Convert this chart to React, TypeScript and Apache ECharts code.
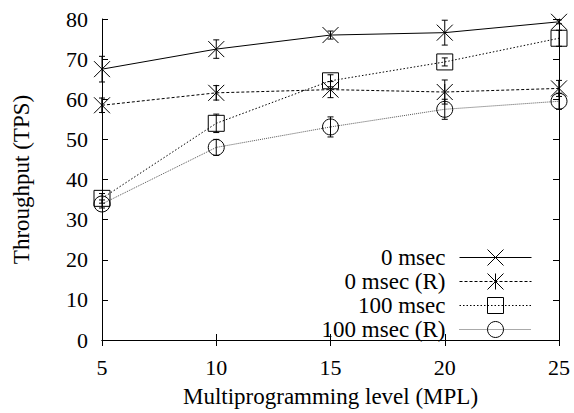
import React, { useEffect, useRef } from "react";
import * as echarts from "echarts";

const mpl = [5, 10, 15, 20, 25];
const tps0 = [67.5, 72.5, 76.0, 76.6, 79.3];
const err0 = [3.2, 2.3, 1.0, 3.1, 0.5];
const tps0R = [58.5, 61.6, 62.4, 61.8, 62.7];
const err0R = [1.8, 1.8, 2.0, 3.0, 2.0];
const tps100 = [35.3, 54.0, 64.6, 69.3, 75.2];
const err100 = [1.2, 2.3, 1.5, 1.0, 2.0];
const tps100R = [33.9, 48.0, 53.1, 57.5, 59.5];
const err100R = [1.0, 2.0, 2.5, 2.5, 2.0];
const seriesNames = ["0 msec", "0 msec (R)", "100 msec", "100 msec (R)"];
const xTicks = { min: 5, max: 25, interval: 5 };
const yTicks = { min: 0, max: 80, interval: 10 };

const FONT = "'Liberation Serif', 'Times New Roman', serif";
const FS = 22;
const FS_T = 23;

const SYM_CROSS = "path://M0,0L10,10M10,0L0,10";
const SYM_STAR = "path://M0,0L10,10M10,0L0,10M5,0L5,10";
const SYM_SQUARE = "path://M0,0L10,0L10,10L0,10Z";

export default function App() {
  const ref = useRef<HTMLDivElement>(null);
  useEffect(() => {
    if (!ref.current) return;
    const chart = echarts.init(ref.current, null, { renderer: "svg" });

    const lineSeries = (
      name: string,
      ys: number[],
      symbol: string,
      lineType: any,
      lineColor: string
    ) => ({
      name,
      type: "line",
      data: mpl.map((x, i) => [x, ys[i]]),
      symbol,
      symbolSize: 16,
      showSymbol: true,
      symbolKeepAspect: true,
      lineStyle: { color: lineColor, width: 1, type: lineType },
      itemStyle: { color: "rgba(0,0,0,0)", borderColor: "#000", borderWidth: 1 },
      emphasis: { disabled: true },
      z: 3,
    });

    const errSeries = (ys: number[], es: number[]) => ({
      type: "custom",
      data: mpl.map((x, i) => [x, ys[i] - es[i], ys[i] + es[i]]),
      encode: { x: 0, y: [1, 2] },
      renderItem: (params: any, api: any) => {
        const x = api.value(0);
        const lo = api.coord([x, api.value(1)]);
        const hi = api.coord([x, api.value(2)]);
        const w = 3;
        const st = { stroke: "#000", lineWidth: 1 };
        return {
          type: "group",
          children: [
            { type: "line", shape: { x1: lo[0], y1: lo[1], x2: hi[0], y2: hi[1] }, style: st },
            { type: "line", shape: { x1: lo[0] - w, y1: lo[1], x2: lo[0] + w, y2: lo[1] }, style: st },
            { type: "line", shape: { x1: hi[0] - w, y1: hi[1], x2: hi[0] + w, y2: hi[1] }, style: st },
          ],
        };
      },
      silent: true,
      z: 4,
    });

    const axisCommon = {
      axisLine: { show: true, lineStyle: { color: "#000", width: 1 } },
      axisTick: { show: true, inside: true, length: 6, lineStyle: { color: "#000" } },
      splitLine: { show: false },
    };

    chart.setOption({
      animation: false,
      backgroundColor: "#fff",
      textStyle: { fontFamily: FONT },
      grid: { left: 102, right: 15, top: 19, bottom: 71 },
      legend: {
        data: seriesNames,
        orient: "vertical",
        align: "right",
        right: 37,
        top: 241,
        itemWidth: 72,
        itemHeight: 20,
        itemGap: 1,
        lineStyle: { width: 1 },
        itemStyle: { borderWidth: 1 },
        textStyle: {
          fontFamily: FONT,
          fontSize: FS_T,
          lineHeight: 20,
          color: "#000",
          padding: [0, 9, 0, 0],
        },
        selectedMode: false,
      },
      xAxis: [
        {
          type: "value",
          ...xTicks,
          position: "bottom",
          ...axisCommon,
          axisLabel: { color: "#000", fontSize: FS, fontFamily: FONT, margin: 16 },
          name: "Multiprogramming level (MPL)",
          nameLocation: "middle",
          nameGap: 45,
          nameTextStyle: { color: "#000", fontSize: FS_T, fontFamily: FONT },
        },
        {
          type: "value",
          ...xTicks,
          position: "top",
          ...axisCommon,
          axisLabel: { show: false },
        },
      ],
      yAxis: [
        {
          type: "value",
          ...yTicks,
          position: "left",
          ...axisCommon,
          axisLabel: { color: "#000", fontSize: FS, fontFamily: FONT, margin: 14 },
          name: "Throughput (TPS)",
          nameLocation: "middle",
          nameGap: 69,
          nameTextStyle: { color: "#000", fontSize: FS_T, fontFamily: FONT },
        },
        {
          type: "value",
          ...yTicks,
          position: "right",
          ...axisCommon,
          axisLabel: { show: false },
        },
      ],
      series: [
        lineSeries(seriesNames[0], tps0, SYM_CROSS, "solid", "#000"),
        lineSeries(seriesNames[1], tps0R, SYM_STAR, [3, 2], "#000"),
        lineSeries(seriesNames[2], tps100, SYM_SQUARE, [1.5, 2], "#000"),
        lineSeries(seriesNames[3], tps100R, "circle", [1, 1], "#555"),
        errSeries(tps0, err0),
        errSeries(tps0R, err0R),
        errSeries(tps100, err100),
        errSeries(tps100R, err100R),
      ],
    });
    return () => chart.dispose();
  }, []);
  return <div ref={ref} style={{ width: 574, height: 413, position: "fixed", left: 0, top: 0 }} />;
}
